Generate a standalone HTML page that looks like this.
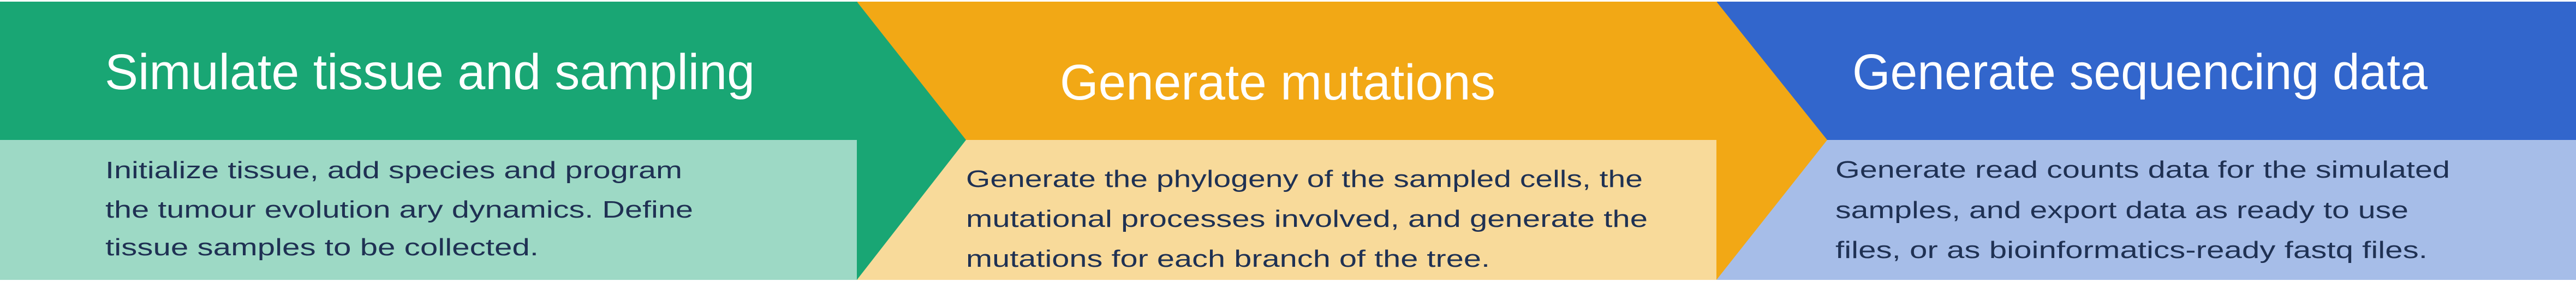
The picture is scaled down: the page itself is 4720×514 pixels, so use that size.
<!DOCTYPE html>
<html><head><meta charset="utf-8"><style>
html,body{margin:0;padding:0;background:#fff;width:4720px;height:514px;overflow:hidden}
svg{display:block}
text{font-family:"Liberation Sans",sans-serif}
.t{fill:#fff;font-size:92px}
.b{fill:#1f3153;font-size:44px}
</style></head><body>
<svg width="4720" height="514" viewBox="0 0 4720 514">
<rect x="0" y="0" width="4720" height="514" fill="#fff"/>
<rect x="0" y="256" width="1571" height="256" fill="#9dd9c5"/>
<rect x="1571" y="256" width="1575" height="256" fill="#f8da9a"/>
<rect x="3146" y="256" width="1574" height="256" fill="#a6bde8"/>
<rect x="0" y="3" width="1571" height="253" fill="#19a674"/>
<rect x="1571" y="3" width="1575" height="253" fill="#f2a815"/>
<rect x="3146" y="3" width="1574" height="253" fill="#3266cc"/>
<polygon points="1570,3 1770,256 1570,512" fill="#19a674"/>
<polygon points="3145,3 3348,256 3145,512" fill="#f2a815"/>

<text class="t" x="192" y="163" textLength="1191" lengthAdjust="spacingAndGlyphs">Simulate tissue and sampling</text>
<text class="t" x="1942" y="182" textLength="798" lengthAdjust="spacingAndGlyphs">Generate mutations</text>
<text class="t" x="3394" y="163" textLength="1054" lengthAdjust="spacingAndGlyphs">Generate sequencing data</text>

<g>
<text class="b" x="193" y="326" textLength="1057" lengthAdjust="spacingAndGlyphs">Initialize tissue, add species and program</text>
<text class="b" x="193" y="398" textLength="1077" lengthAdjust="spacingAndGlyphs">the tumour evolution ary dynamics. Define</text>
<text class="b" x="193" y="467" textLength="794" lengthAdjust="spacingAndGlyphs">tissue samples to be collected.</text>
</g>
<g>
<text class="b" x="1770" y="342" textLength="1240" lengthAdjust="spacingAndGlyphs">Generate the phylogeny of the sampled cells, the</text>
<text class="b" x="1770" y="415" textLength="1249" lengthAdjust="spacingAndGlyphs">mutational processes involved, and generate the</text>
<text class="b" x="1770" y="488" textLength="960" lengthAdjust="spacingAndGlyphs">mutations for each branch of the tree.</text>
</g>
<g>
<text class="b" x="3363" y="325" textLength="1126" lengthAdjust="spacingAndGlyphs">Generate read counts data for the simulated</text>
<text class="b" x="3363" y="399" textLength="1050" lengthAdjust="spacingAndGlyphs">samples, and export data as ready to use</text>
<text class="b" x="3363" y="472" textLength="1085" lengthAdjust="spacingAndGlyphs">files, or as bioinformatics-ready fastq files.</text>
</g>
</svg>
</body></html>
